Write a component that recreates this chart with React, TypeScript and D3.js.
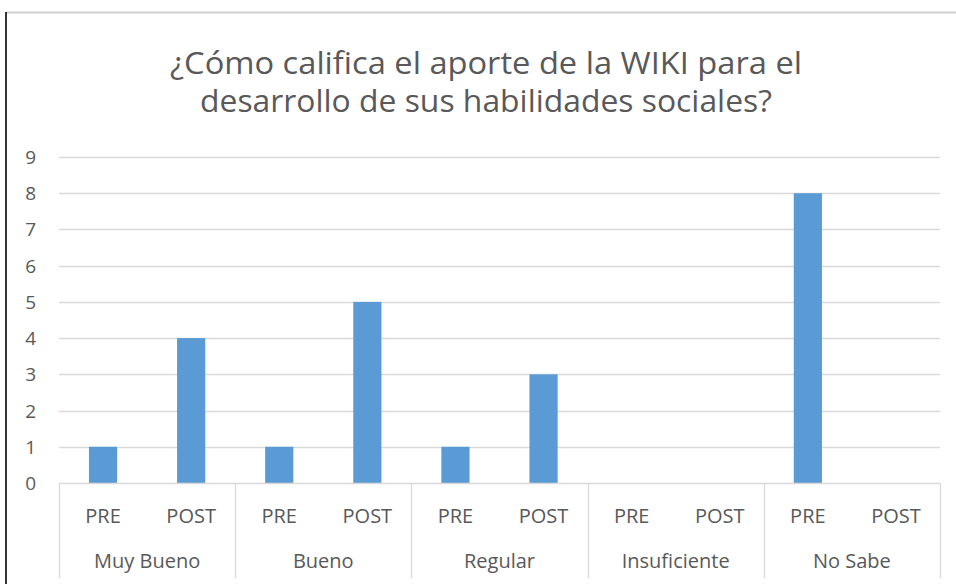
import React, { useEffect, useRef } from "react";
import * as d3 from "d3";

const categories = ["Muy Bueno", "Bueno", "Regular", "Insuficiente", "No Sabe"];
const phases = ["PRE", "POST"];
const preValues = [1, 1, 1, 0, 8];
const postValues = [4, 5, 3, 0, 0];
const yTicks = [0, 1, 2, 3, 4, 5, 6, 7, 8, 9];
const titleLines = [
  "¿Cómo califica el aporte de la WIKI para el",
  "desarrollo de sus habilidades sociales?",
];

const App = () => {
  const ref = useRef<SVGSVGElement>(null);

  useEffect(() => {
    const width = 956;
    const height = 584;
    const left = 59;
    const right = 940;
    const top = 157;
    const bottom = 483;
    const font = "'Open Sans', 'Liberation Sans', sans-serif";

    const svg = d3.select(ref.current);
    svg.selectAll("*").remove();
    svg.attr("width", width).attr("height", height);

    svg.append("rect").attr("width", width).attr("height", height).attr("fill", "#fff");

    // frame edges
    svg.append("line").attr("x1", 6).attr("x2", width).attr("y1", 12.5).attr("y2", 12.5)
      .attr("stroke", "#d0d0d0").attr("stroke-width", 2);
    svg.append("line").attr("x1", 6).attr("x2", 6).attr("y1", 12).attr("y2", height)
      .attr("stroke", "#333").attr("stroke-width", 2);

    // title, stretched a bit to match the wide original lettering
    const titlePos = [
      { x: 170, y: 74, len: 632 },
      { x: 200, y: 112, len: 572 },
    ];
    svg.append("g").selectAll("text").data(titleLines).enter().append("text")
      .attr("x", (d, i) => titlePos[i].x)
      .attr("y", (d, i) => titlePos[i].y)
      .attr("textLength", (d, i) => titlePos[i].len)
      .attr("lengthAdjust", "spacingAndGlyphs")
      .attr("font-family", font)
      .attr("font-size", 31)
      .attr("fill", "#595959")
      .text((d) => d);

    const y = d3.scaleLinear().domain([0, 9]).range([bottom, top]);
    const x0 = d3.scaleBand().domain(categories).range([left, right]);
    const x1 = d3.scaleBand().domain(phases).range([0, x0.bandwidth()]).paddingInner(0.68).paddingOuter(0.34);

    // gridlines
    svg.append("g").selectAll("line").data(yTicks.filter((t) => t > 0)).enter().append("line")
      .attr("x1", left).attr("x2", right)
      .attr("y1", (d) => Math.round(y(d)) + 0.5).attr("y2", (d) => Math.round(y(d)) + 0.5)
      .attr("stroke", "#d9d9d9").attr("stroke-width", 1.3);

    // y labels
    svg.append("g").selectAll("text").data(yTicks).enter().append("text")
      .attr("x", 36).attr("y", (d) => y(d) + 7)
      .attr("text-anchor", "end")
      .attr("font-family", font).attr("font-size", 19).attr("fill", "#595959")
      .text((d) => d);

    // bars
    const groups = svg.append("g").selectAll("g").data(categories).enter().append("g")
      .attr("transform", (d) => `translate(${x0(d)},0)`);
    groups.selectAll("rect")
      .data((d, i) => [
        { phase: "PRE", value: preValues[i] },
        { phase: "POST", value: postValues[i] },
      ])
      .enter().append("rect")
      .filter((d) => d.value > 0)
      .attr("x", (d) => x1(d.phase)!)
      .attr("width", x1.bandwidth())
      .attr("y", (d) => y(d.value))
      .attr("height", (d) => y(0) - y(d.value))
      .attr("fill", "#5b9bd5");

    // axis line and category separators
    svg.append("line").attr("x1", left).attr("x2", right).attr("y1", bottom + 0.5).attr("y2", bottom + 0.5)
      .attr("stroke", "#d9d9d9").attr("stroke-width", 1.3);
    const seps = categories.map((c) => x0(c)!).concat([right]);
    svg.append("g").selectAll("line").data(seps).enter().append("line")
      .attr("x1", (d) => Math.round(d) + 0.5).attr("x2", (d) => Math.round(d) + 0.5)
      .attr("y1", bottom).attr("y2", 578)
      .attr("stroke", "#d9d9d9").attr("stroke-width", 1.3);

    // phase labels
    groups.selectAll("text.phase").data(phases).enter().append("text")
      .attr("class", "phase")
      .attr("x", (d) => x1(d)! + x1.bandwidth() / 2)
      .attr("y", 523)
      .attr("text-anchor", "middle")
      .attr("font-family", font).attr("font-size", 20).attr("fill", "#595959")
      .text((d) => d);

    // category labels
    groups.append("text")
      .attr("x", x0.bandwidth() / 2)
      .attr("y", 568)
      .attr("text-anchor", "middle")
      .attr("font-family", font).attr("font-size", 20).attr("fill", "#595959")
      .text((d) => d);
  }, []);

  return <svg ref={ref} style={{ position: "absolute", left: 0, top: 0, display: "block" }} />;
};

export default App;
